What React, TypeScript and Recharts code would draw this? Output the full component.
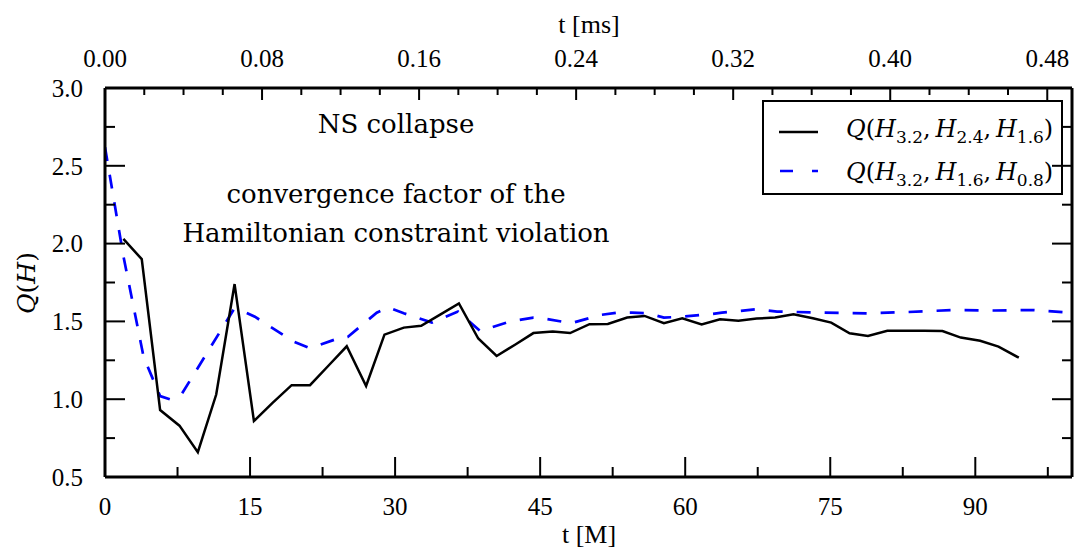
import React from 'react';
import { LineChart, Line, XAxis, YAxis, Customized } from 'recharts';

// solid: Q(H3.2, H2.4, H1.6)
const blackT = [1.9, 3.8, 5.7, 7.7, 9.6, 11.5, 13.4, 15.4, 17.3, 19.3, 21.2, 23.1, 25.0, 27.0, 28.9, 30.9, 32.7, 34.7, 36.6, 38.6, 40.5, 42.4, 44.3, 46.3, 48.1, 50.1, 52.0, 54.0, 55.8, 57.8, 59.7, 61.7, 63.6, 65.5, 67.4, 69.3, 71.2, 73.2, 75.1, 77.0, 78.9, 80.9, 82.7, 84.7, 86.6, 88.5, 90.5, 92.4, 94.5];
const blackQ = [2.03, 1.9, 0.93, 0.83, 0.66, 1.03, 1.74, 0.86, 0.975, 1.09, 1.09, 1.215, 1.34, 1.085, 1.415, 1.46, 1.472, 1.545, 1.615, 1.39, 1.278, 1.35, 1.425, 1.435, 1.425, 1.482, 1.483, 1.525, 1.535, 1.488, 1.52, 1.481, 1.513, 1.504, 1.518, 1.525, 1.546, 1.52, 1.492, 1.424, 1.406, 1.44, 1.44, 1.44, 1.438, 1.396, 1.376, 1.338, 1.267];

// dashed: Q(H3.2, H1.6, H0.8)
const blueT = [0, 1.9, 4.0, 5.7, 6.7, 7.9, 13.3, 13.9, 15.5, 19.5, 21.2, 24.3, 25.1, 28.1, 29.3, 30.9, 33.8, 36.5, 38.8, 41.9, 44.3, 44.9, 48.2, 51.2, 53.0, 54.5, 56.2, 57.8, 59.5, 62.6, 63.8, 67.4, 69.5, 73.2, 78.8, 83, 87.7, 92, 96.0, 100];
const blueQ = [2.62, 1.92, 1.27, 1.02, 1.0, 1.03, 1.575, 1.575, 1.53, 1.37, 1.327, 1.395, 1.4, 1.556, 1.59, 1.552, 1.492, 1.563, 1.438, 1.5, 1.524, 1.524, 1.488, 1.541, 1.556, 1.556, 1.552, 1.524, 1.53, 1.546, 1.556, 1.578, 1.563, 1.558, 1.552, 1.56, 1.573, 1.57, 1.573, 1.556];

const bottomTicks = [0, 7.5, 15, 22.5, 30, 37.5, 45, 52.5, 60, 67.5, 75, 82.5, 90, 97.5];
const bottomLabels = [0, 15, 30, 45, 60, 75, 90];
const topTicks = [0, 0.02, 0.04, 0.06, 0.08, 0.1, 0.12, 0.14, 0.16, 0.18, 0.2, 0.22, 0.24, 0.26, 0.28, 0.3, 0.32, 0.34, 0.36, 0.38, 0.4, 0.42, 0.44, 0.46, 0.48];
const topLabels = ['0.00', '0.08', '0.16', '0.24', '0.32', '0.40', '0.48'];
const yTicks = [0.5, 0.75, 1, 1.25, 1.5, 1.75, 2, 2.25, 2.5, 2.75, 3];
const yLabels = ['0.5', '1.0', '1.5', '2.0', '2.5', '3.0'];

const legendSubs = [
  ['3.2', '2.4', '1.6'],
  ['3.2', '1.6', '0.8'],
];
const noteLines = ['NS collapse', 'convergence factor of the', 'Hamiltonian constraint violation'];

// 1 M (solar mass) in ms
const MS_PER_M = 0.004926;

const blackData = blackT.map((t, i) => ({ t, q: blackQ[i] }));
const blueData = blueT.map((t, i) => ({ t, q: blueQ[i] }));
// same dashed run on the ms scale, only used so the top axis has a series
const blueMs = blueT.map((t, i) => ({ ms: t * MS_PER_M, q: blueQ[i] }));

const tickFont = { fontFamily: '"Liberation Serif", serif', fontSize: 25, fill: '#000' };
const textFont = '"DejaVu Serif", serif';

const BottomTick = ({ x, y, payload }: any) => {
  const major = bottomLabels.includes(payload.value);
  return (
    <g>
      <line x1={x} x2={x} y1={y} y2={y - (major ? 20 : 10)} stroke="#000" strokeWidth={2} />
      {major && (
        <text x={x} y={y + 38} textAnchor="middle" {...tickFont}>
          {payload.value}
        </text>
      )}
    </g>
  );
};

const TopTick = ({ x, y, payload }: any) => {
  const label = Number(payload.value).toFixed(2);
  const major = topLabels.includes(label);
  return (
    <g>
      <line x1={x} x2={x} y1={y} y2={y + (major ? 12 : 7)} stroke="#000" strokeWidth={2} />
      {major && (
        <text x={x} y={y - 21} textAnchor="middle" {...tickFont}>
          {label}
        </text>
      )}
    </g>
  );
};

const LeftTick = ({ x, y, payload }: any) => {
  const label = Number(payload.value).toFixed(1);
  const major = yLabels.includes(label) && Math.abs(payload.value * 2 - Math.round(payload.value * 2)) < 1e-6;
  return (
    <g>
      <line x1={x} x2={x + (major ? 20 : 10)} y1={y} y2={y} stroke="#000" strokeWidth={2} />
      {major && (
        <text x={x - 22} y={y} dy="0.35em" textAnchor="end" {...tickFont}>
          {label}
        </text>
      )}
    </g>
  );
};

const RightTick = ({ x, y, payload }: any) => {
  const major = Math.abs(payload.value * 2 - Math.round(payload.value * 2)) < 1e-6;
  return <line x1={x} x2={x - (major ? 20 : 10)} y1={y} y2={y} stroke="#000" strokeWidth={2} />;
};

const MathLabel = ({ x, y, subs }: { x: number; y: number; subs: string[] }) => (
  <text x={x} y={y} fontFamily={textFont} fontSize={24} fill="#000">
    <tspan fontStyle="italic">Q</tspan>
    <tspan>(</tspan>
    {subs.map((s, i) => (
      <React.Fragment key={i}>
        <tspan fontStyle="italic">H</tspan>
        <tspan fontSize={17} dy={6}>{s}</tspan>
        <tspan dy={-6}>{i < subs.length - 1 ? ',\u2009' : ')'}</tspan>
      </React.Fragment>
    ))}
  </text>
);

const Overlay = () => (
  <g>
    {/* notes inside the plot */}
    <text x={396} y={133} textAnchor="middle" fontFamily={textFont} fontSize={26}>{noteLines[0]}</text>
    <text x={396} y={203} textAnchor="middle" fontFamily={textFont} fontSize={26}>{noteLines[1]}</text>
    <text x={396} y={242} textAnchor="middle" fontFamily={textFont} fontSize={26}>{noteLines[2]}</text>

    {/* legend */}
    <rect x={763} y={101} width={299} height={93} fill="#fff" stroke="#000" strokeWidth={2} />
    <line x1={779} x2={818} y1={132} y2={132} stroke="#000" strokeWidth={2.5} />
    <line x1={780} x2={818} y1={171} y2={171} stroke="#0000ff" strokeWidth={2.7} strokeDasharray="13 19" />
    <MathLabel x={846} y={137} subs={legendSubs[0]} />
    <MathLabel x={846} y={180} subs={legendSubs[1]} />

    {/* axis titles */}
    <text x={589} y={33} textAnchor="middle" fontFamily='"Liberation Serif", serif' fontSize={26}>t [ms]</text>
    <text x={589} y={543} textAnchor="middle" fontFamily='"Liberation Serif", serif' fontSize={26}>t [M]</text>
    <text transform="translate(26,283) rotate(-90)" textAnchor="middle" dy="0.35em" fontFamily={textFont} fontSize={25}>
      <tspan fontStyle="italic">Q</tspan>
      <tspan>(</tspan>
      <tspan fontStyle="italic">H</tspan>
      <tspan>)</tspan>
    </text>
  </g>
);

export default function App() {
  const frame = { stroke: '#000', strokeWidth: 3 };
  return (
    <div style={{ position: 'absolute', left: 0, top: 0, background: '#fff' }}>
      <LineChart width={1077} height={550} margin={{ top: 0, right: 0, bottom: 0, left: 0 }}>
        <XAxis
          xAxisId="bottom"
          dataKey="t"
          type="number"
          orientation="bottom"
          domain={[0, 100]}
          allowDataOverflow
          ticks={bottomTicks}
          interval={0}
          height={73}
          tickSize={0}
          tickMargin={0}
          tickLine={false}
          axisLine={frame}
          tick={<BottomTick />}
        />
        <XAxis
          xAxisId="top"
          dataKey="ms"
          type="number"
          orientation="top"
          domain={[0, 100 * MS_PER_M]}
          allowDataOverflow
          ticks={topTicks}
          interval={0}
          height={88}
          tickSize={0}
          tickMargin={0}
          tickLine={false}
          axisLine={frame}
          tick={<TopTick />}
        />
        <YAxis
          yAxisId="left"
          type="number"
          domain={[0.5, 3]}
          allowDataOverflow
          ticks={yTicks}
          interval={0}
          width={105}
          tickSize={0}
          tickMargin={0}
          tickLine={false}
          axisLine={frame}
          tick={<LeftTick />}
        />
        <YAxis
          yAxisId="right"
          orientation="right"
          type="number"
          domain={[0.5, 3]}
          allowDataOverflow
          ticks={yTicks}
          interval={0}
          width={5}
          tickSize={0}
          tickMargin={0}
          tickLine={false}
          axisLine={frame}
          tick={<RightTick />}
        />
        <Line
          xAxisId="top"
          yAxisId="right"
          data={blueMs}
          dataKey="q"
          type="linear"
          dot={false}
          stroke="none"
          strokeWidth={0}
          legendType="none"
          isAnimationActive={false}
        />
        <Line
          xAxisId="bottom"
          yAxisId="left"
          data={blueData}
          dataKey="q"
          type="linear"
          dot={false}
          stroke="#0000ff"
          strokeWidth={2.7}
          strokeDasharray="14 14"
          isAnimationActive={false}
        />
        <Line
          xAxisId="bottom"
          yAxisId="left"
          data={blackData}
          dataKey="q"
          type="linear"
          dot={false}
          stroke="#000"
          strokeWidth={2.5}
          isAnimationActive={false}
        />
        <Customized component={<Overlay />} />
      </LineChart>
    </div>
  );
}
